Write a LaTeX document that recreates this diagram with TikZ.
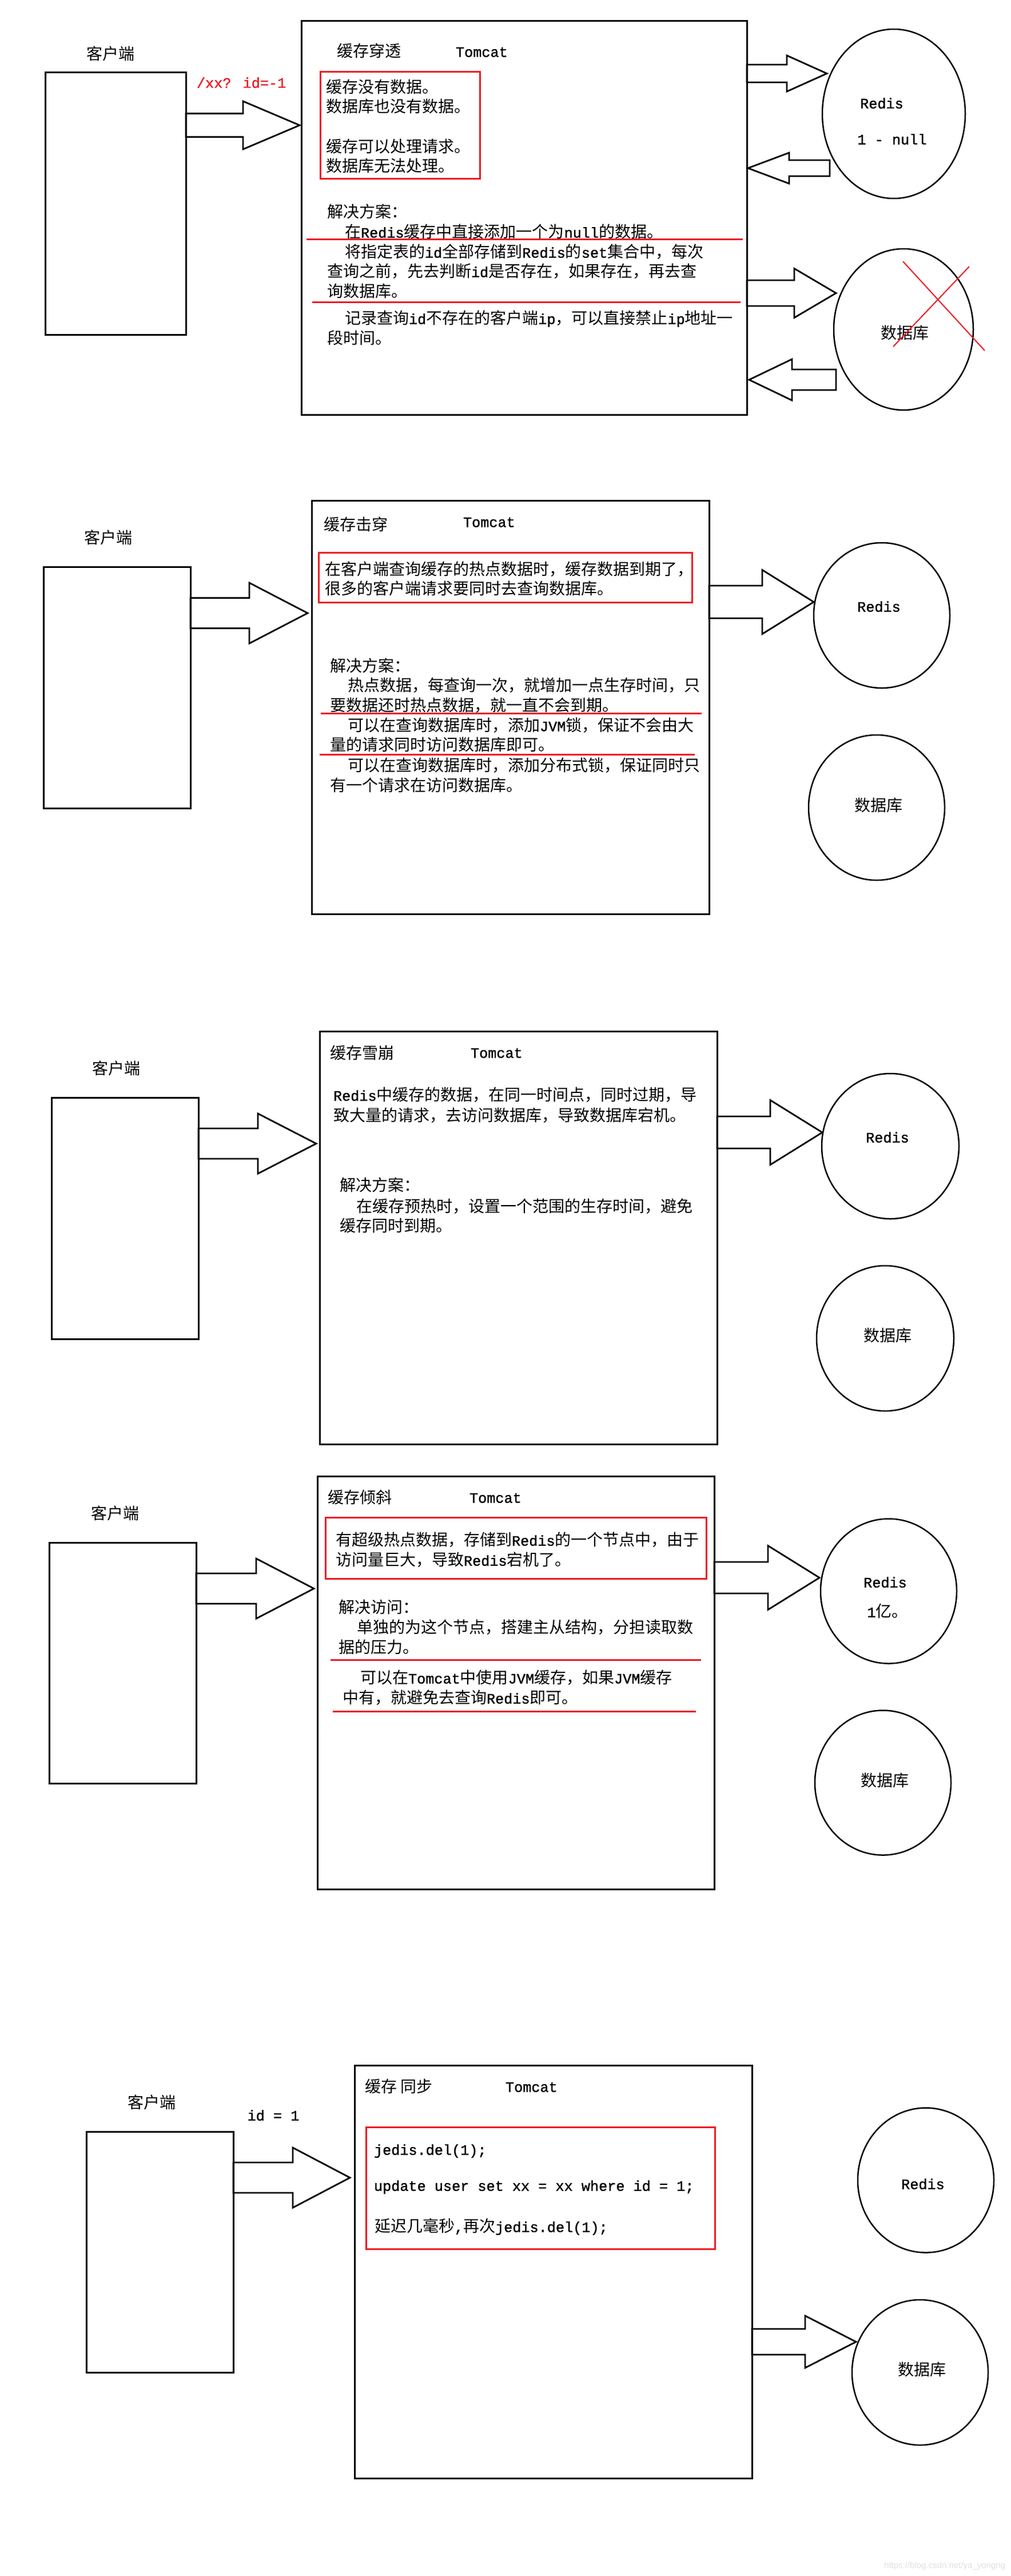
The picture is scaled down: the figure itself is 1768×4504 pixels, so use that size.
\documentclass[tikz,border=0pt]{standalone}
\usepackage{fontspec}
\setmainfont{Noto Sans CJK SC}
\newfontfamily\wmfont{Liberation Sans}
\newfontfamily\latfont{Liberation Mono}[Scale=0.9, FakeBold=1.2]
\newcommand\lmono[1]{{\latfont #1}}
\usetikzlibrary{shapes.geometric}
\definecolor{pred}{RGB}{237,28,36}
\newcommand\blkarrow[6]{% x0 xhead tip cy shafthalf headhalf
  \draw[blk] (#1,#4-#5) -- (#2,#4-#5) -- (#2,#4-#6) -- (#3,#4) -- (#2,#4+#6) -- (#2,#4+#5) -- (#1,#4+#5) -- cycle;}
\begin{document}
\begin{tikzpicture}[x=1pt,y=-1pt,
  every node/.style={inner sep=0pt, outer sep=0pt},
  box/.style={draw, line width=3pt, anchor=north west},
  redbox/.style={draw=pred, line width=3pt, anchor=north west},
  redline/.style={draw=pred, line width=3pt},
  blk/.style={draw, line width=2.8pt, line join=miter},
  oval/.style={ellipse, draw, line width=2.5pt},
  txt/.style={font=\fontsize{28}{35}\selectfont, anchor=west, text height=24pt, text depth=3pt},
  ctxt/.style={font=\fontsize{28}{35}\selectfont, anchor=center, text height=24pt, text depth=3pt},
]
\useasboundingbox (0,0) rectangle (1768,4504);
\fill[white] (0,0) rectangle (1768,4504);

% ================= Section 1: 缓存穿透 =================
\node[ctxt] (k1) at (193,94) {客户端};
\node[box, minimum width=246pt, minimum height=458pt] (c1) at (79,127) {};
\node[txt, text=pred] (q1) at (344,143) {\lmono{/xx? id=-1}};
\node[box, minimum width=779pt, minimum height=688pt] (t1) at (527,37) {};
\node[txt] (h1) at (589,89) {缓存穿透};
\node[txt] (m1) at (797,89) {\lmono{Tomcat}};
\node[redbox, minimum width=279pt, minimum height=186pt] (r1) at (560,126) {};
\node[txt] (a1) at (570,152) {缓存没有数据。};
\node[txt] (a2) at (570,186) {数据库也没有数据。};
\node[txt] (a3) at (570,256) {缓存可以处理请求。};
\node[txt] (a4) at (570,290) {数据库无法处理。};
\node[txt] (s1) at (572,370) {解决方案：};
\node[txt] (s2) at (603,405) {在\lmono{Redis}缓存中直接添加一个为\lmono{null}的数据。};
\draw[redline] (536,418) -- (1299,418);
\node[txt] (s3) at (603,440) {将指定表的\lmono{id}全部存储到\lmono{Redis}的\lmono{set}集合中，每次};
\node[txt] (s4) at (572,474) {查询之前，先去判断\lmono{id}是否存在，如果存在，再去查};
\node[txt] (s5) at (572,509) {询数据库。};
\draw[redline] (546,528) -- (1295,528);
\node[txt] (s6) at (603,556) {记录查询\lmono{id}不存在的客户端\lmono{ip}，可以直接禁止\lmono{ip}地址一};
\node[txt] (s7) at (572,591) {段时间。};
\node[oval, minimum width=250pt, minimum height=296pt] (rd1) at (1563,199) {};
\node[ctxt] (rl1) at (1542,179) {\lmono{Redis}};
\node[ctxt] (rn1) at (1560,242) {\lmono{1 - null}};
\node[oval, minimum width=244pt, minimum height=282pt] (db1) at (1580,576) {};
\node[ctxt] (dl1) at (1582,582) {数据库};
\draw[pred, line width=2pt] (1579,457) -- (1722,613);
\draw[pred, line width=2pt] (1695,466) -- (1562,606);
\blkarrow{325}{425}{524}{219}{20.5}{42}
\blkarrow{1306}{1376}{1446}{128.5}{15.5}{31.5}
\blkarrow{1451}{1380}{1308}{294}{14}{27}
\blkarrow{1306}{1389}{1462}{512.5}{22.5}{43}
\blkarrow{1462}{1385}{1310}{664}{18}{36}

% ================= Section 2: 缓存击穿 =================
\node[ctxt] (k2) at (189,940) {客户端};
\node[box, minimum width=257pt, minimum height=422pt] (c2) at (76,991) {};
\node[box, minimum width=695pt, minimum height=723pt] (t2) at (545,875) {};
\node[txt] (h2) at (566,917) {缓存击穿};
\node[txt] (m2) at (810,911) {\lmono{Tomcat}};
\node[redbox, minimum width=653pt, minimum height=87pt] (r2) at (557,966) {};
\node[txt] (b1) at (568,995) {在客户端查询缓存的热点数据时，缓存数据到期了，};
\node[txt] (b2) at (568,1029) {很多的客户端请求要同时去查询数据库。};
\node[txt] (b3) at (577,1164) {解决方案：};
\node[txt] (b4) at (608,1198) {热点数据，每查询一次，就增加一点生存时间，只};
\node[txt] (b5) at (577,1233) {要数据还时热点数据，就一直不会到期。};
\draw[redline] (561,1247) -- (1227,1247);
\node[txt] (b6) at (608,1268) {可以在查询数据库时，添加\lmono{JVM}锁，保证不会由大};
\node[txt] (b7) at (577,1302) {量的请求同时访问数据库即可。};
\draw[redline] (559,1319) -- (1215,1319);
\node[txt] (b8) at (608,1338) {可以在查询数据库时，添加分布式锁，保证同时只};
\node[txt] (b9) at (577,1373) {有一个请求在访问数据库。};
\node[oval, minimum width=238pt, minimum height=254pt] (rd2) at (1542,1076) {};
\node[ctxt] (rl2) at (1537,1059) {\lmono{Redis}};
\node[oval, minimum width=238pt, minimum height=254pt] (db2) at (1533,1412) {};
\node[ctxt] (dl2) at (1536,1408) {数据库};
\blkarrow{333}{436}{538}{1072}{26.5}{53}
\blkarrow{1240}{1333}{1423}{1052.5}{28.5}{56}

% ================= Section 3: 缓存雪崩 =================
\node[ctxt] (k3) at (203,1868) {客户端};
\node[box, minimum width=257pt, minimum height=422pt] (c3) at (90,1919) {};
\node[box, minimum width=695pt, minimum height=722pt] (t3) at (559,1803) {};
\node[txt] (h3) at (577,1841) {缓存雪崩};
\node[txt] (m3) at (823,1839) {\lmono{Tomcat}};
\node[txt] (e1) at (583,1914) {\lmono{Redis}中缓存的数据，在同一时间点，同时过期，导};
\node[txt] (e2) at (583,1950) {致大量的请求，去访问数据库，导致数据库宕机。};
\node[txt] (e3) at (594,2072) {解决方案：};
\node[txt] (e4) at (623,2109) {在缓存预热时，设置一个范围的生存时间，避免};
\node[txt] (e5) at (594,2143) {缓存同时到期。};
\node[oval, minimum width=240pt, minimum height=254pt] (rd3) at (1557,2004) {};
\node[ctxt] (rl3) at (1552,1987) {\lmono{Redis}};
\node[oval, minimum width=240pt, minimum height=254pt] (db3) at (1548,2340) {};
\node[ctxt] (dl3) at (1552,2335) {数据库};
\blkarrow{347}{451}{553}{1999.5}{26.5}{52.5}
\blkarrow{1254}{1347}{1438}{1980}{28}{56.5}

% ================= Section 4: 缓存倾斜 =================
\node[ctxt] (k4) at (201,2646) {客户端};
\node[box, minimum width=257pt, minimum height=421pt] (c4) at (86,2697) {};
\node[box, minimum width=694pt, minimum height=722pt] (t4) at (555,2581) {};
\node[txt] (h4) at (573,2618) {缓存倾斜};
\node[txt] (m4) at (821,2617) {\lmono{Tomcat}};
\node[redbox, minimum width=666pt, minimum height=107pt] (r4) at (569,2653) {};
\node[txt] (f1) at (587,2692) {有超级热点数据，存储到\lmono{Redis}的一个节点中，由于};
\node[txt] (f2) at (587,2727) {访问量巨大，导致\lmono{Redis}宕机了。};
\node[txt] (f3) at (592,2810) {解决访问：};
\node[txt] (f4) at (624,2845) {单独的为这个节点，搭建主从结构，分担读取数};
\node[txt] (f5) at (592,2880) {据的压力。};
\draw[redline] (578,2902) -- (1226,2902);
\node[txt] (f6) at (630,2933) {可以在\lmono{Tomcat}中使用\lmono{JVM}缓存，如果\lmono{JVM}缓存};
\node[txt] (f7) at (599,2968) {中有，就避免去查询\lmono{Redis}即可。};
\draw[redline] (582,2992) -- (1217,2992);
\node[oval, minimum width=238pt, minimum height=253pt] (rd4) at (1554,2782) {};
\node[ctxt] (rl4) at (1548,2765) {\lmono{Redis}};
\node[ctxt] (rn4) at (1552,2817) {\lmono{1}亿。};
\node[oval, minimum width=238pt, minimum height=253pt] (db4) at (1544,3117) {};
\node[ctxt] (dl4) at (1547,3113) {数据库};
\blkarrow{343}{448}{549}{2777.5}{26.5}{52.5}
\blkarrow{1249}{1343}{1433}{2758.5}{27.5}{56}

% ================= Section 5: 缓存同步 =================
\node[ctxt] (k5) at (265,3676) {客户端};
\node[ctxt] (i5) at (478,3697) {\lmono{id = 1}};
\node[box, minimum width=257pt, minimum height=421pt] (c5) at (151,3727) {};
\node[box, minimum width=695pt, minimum height=722pt] (t5) at (620,3611) {};
\node[txt] (h5) at (638,3648) {缓存 同步};
\node[txt] (m5) at (884,3647) {\lmono{Tomcat}};
\node[redbox, minimum width=610pt, minimum height=213pt] (r5) at (640,3719) {};
\node[txt] (g1) at (654,3757) {\lmono{jedis.del(1);}};
\node[txt] (g2) at (654,3820) {\lmono{update user set xx = xx where id = 1;}};
\node[txt] (g3) at (655,3892) {延迟几毫秒\lmono{,}再次\lmono{jedis.del(1);}};
\node[oval, minimum width=238pt, minimum height=253pt] (rd5) at (1619,3812) {};
\node[ctxt] (rl5) at (1614,3817) {\lmono{Redis}};
\node[oval, minimum width=238pt, minimum height=254pt] (db5) at (1609,4148) {};
\node[ctxt] (dl5) at (1612,4143) {数据库};
\blkarrow{408}{512}{612}{3807.5}{26.5}{52.5}
\blkarrow{1315}{1408}{1497}{4094.5}{22.5}{45.5}
\node[anchor=east, text=black!12, font=\wmfont\fontsize{15}{18}\selectfont] (w5) at (1758,4487) {https://blog.csdn.net/ya\_yongng};
\end{tikzpicture}
\end{document}
